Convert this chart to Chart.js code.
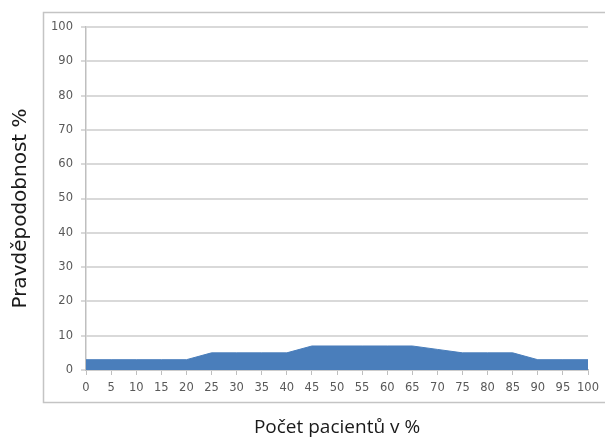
<!DOCTYPE html>
<html>
<head>
<meta charset="utf-8">
<script src="https://cdn.jsdelivr.net/npm/chart.js@4/dist/chart.umd.min.js"></script>
<style>
  html, body { margin: 0; padding: 0; background: #ffffff; }
  canvas { display: block; }
</style>
</head>
<body>
<canvas id="chart" width="605" height="440"></canvas>
<script>
// Share of patients (%) along the x axis
const patientShare = ['0','5','10','15','20','25','30','35','40','45','50','55','60','65','70','75','80','85','90','95','100'];
// Probability (%) for each share
const probability = [3,3,3,3,3,5,5,5,5,7,7,7,7,7,6,5,5,5,3,3,3];
// Y axis range
const yMin = 0;
const yMax = 100;
const yStep = 10;

const xTitle = 'Počet pacientů v %';
const yTitle = 'Pravděpodobnost %';

// Frame around the chart block, plus the vertical axis caption
const frame = {
  id: 'frame',
  beforeDraw(chart) {
    const ctx = chart.ctx;
    ctx.save();
    ctx.fillStyle = '#ffffff';
    ctx.fillRect(0, 0, chart.width, chart.height);
    ctx.strokeStyle = '#c4c4c4';
    ctx.lineWidth = 1.5;
    ctx.strokeRect(43.5, 12.5, 620, 390);
    ctx.restore();
  },
  afterDraw(chart) {
    const ctx = chart.ctx;
    const area = chart.chartArea;
    ctx.save();
    ctx.translate(21, (area.top + area.bottom) / 2 + 10);
    ctx.rotate(-Math.PI / 2);
    ctx.font = '20px "DejaVu Sans"';
    ctx.fillStyle = '#1a1a1a';
    ctx.textAlign = 'center';
    ctx.textBaseline = 'middle';
    ctx.fillText(yTitle, 0, 0);
    ctx.restore();
  }
};

new Chart(document.getElementById('chart'), {
  type: 'line',
  data: {
    labels: patientShare,
    datasets: [{
      data: probability,
      fill: 'origin',
      backgroundColor: '#4a7ebb',
      borderColor: '#4a7ebb',
      borderWidth: 1,
      pointRadius: 0,
      tension: 0
    }]
  },
  options: {
    responsive: false,
    animation: false,
    layout: { padding: { left: 0, right: 13, top: 27, bottom: 0 } },
    plugins: { legend: { display: false }, tooltip: { enabled: false } },
    scales: {
      x: {
        offset: false,
        afterFit(scale) { scale.height = 70; },
        grid: { drawOnChartArea: false, drawTicks: true, tickLength: 5, color: '#bfbfbf' },
        border: { color: '#bfbfbf', width: 1.5 },
        ticks: {
          autoSkip: false, maxRotation: 0, padding: 6,
          color: '#595959',
          font: { family: 'DejaVu Sans', size: 11.5 }
        },
        title: {
          display: true, text: xTitle, color: '#1a1a1a',
          font: { family: 'Open Sans', size: 19 },
          padding: { top: 0, bottom: 1 }
        }
      },
      y: {
        min: yMin, max: yMax,
        afterFit(scale) { scale.width = 86; },
        grid: { color: '#d9d9d9', lineWidth: 2, tickLength: 5 },
        border: { color: '#bfbfbf', width: 1.5 },
        ticks: {
          stepSize: yStep, padding: 8,
          color: '#595959',
          font: { family: 'DejaVu Sans', size: 11.5 }
        }
      }
    }
  },
  plugins: [frame]
});
</script>
</body>
</html>
